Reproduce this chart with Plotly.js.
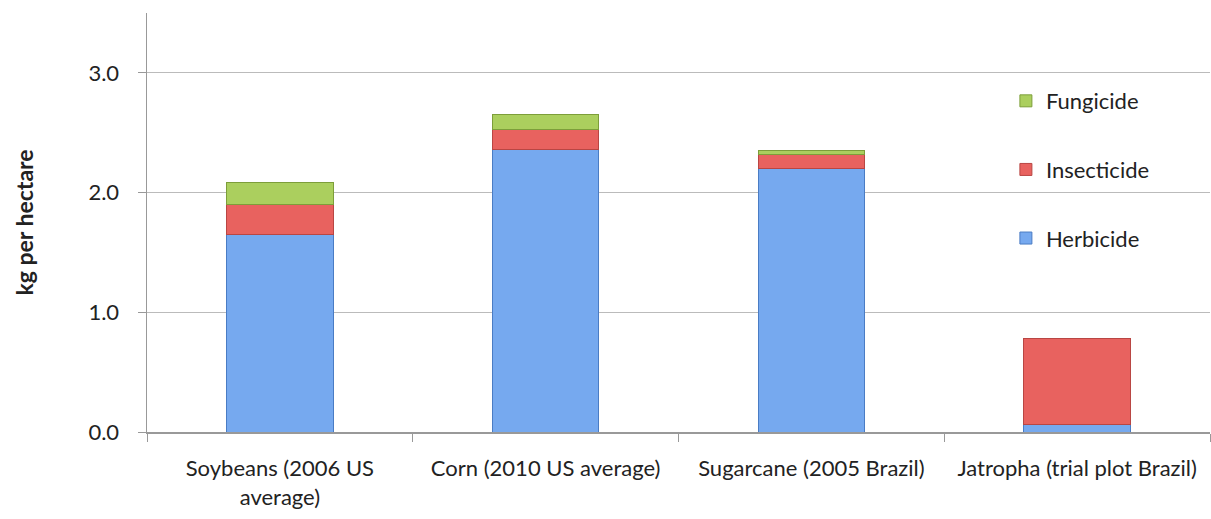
<!DOCTYPE html>
<html>
<head>
<meta charset="utf-8">
<script src="https://cdn.plot.ly/plotly-3.0.1.min.js"></script>
<style>html,body{margin:0;padding:0;background:#fff;}#chart{width:1211px;height:519px;}</style>
</head>
<body>
<div id="chart"></div>
<script>
const categories = ["Soybeans (2006 US<br>average)", "Corn (2010 US average)", "Sugarcane (2005 Brazil)", "Jatropha (trial plot Brazil)"];
const herbicide = [1.65, 2.36, 2.20, 0.06];
const insecticide = [0.25, 0.17, 0.12, 0.72];
const fungicide = [0.18, 0.12, 0.03, 0.0];
const yTicks = [0, 1, 2, 3];
const yTickLabels = ["0.0", "1.0", "2.0", "3.0"];

const mk = (name, y, fill, line, rank) => ({
  type: "bar", name: name, x: categories, y: y, width: 0.4,
  legendgroup: name, legendrank: rank,
  marker: {color: fill, line: {color: line, width: y.map(v => v > 0 ? 1 : 0)}},
  hoverinfo: "y+name"
});

const data = [
  mk("Herbicide", herbicide, "#76a9ef", "#4a7cc4", 3),
  mk("Insecticide", insecticide, "#e8625f", "#b94643", 2),
  mk("Fungicide", fungicide, "#abcf5e", "#7d9e3a", 1)
];

const font = "Lato, 'Open Sans', sans-serif";
const layout = {
  width: 1211, height: 519,
  margin: {l: 147, r: 1, t: 13, b: 87},
  barmode: "stack",
  paper_bgcolor: "#fff", plot_bgcolor: "#fff",
  font: {family: font, size: 22, color: "#222"},
  xaxis: {
    type: "category", showline: true, linecolor: "#999", linewidth: 1.5,
    ticks: "outside", tickson: "boundaries", ticklen: 8, tickcolor: "#999",
    ticklabelstandoff: 16,
    tickfont: {size: 22, family: font, color: "#222"}, showgrid: false
  },
  yaxis: {
    range: [0, 3.5], tickvals: yTicks, ticktext: yTickLabels,
    showline: true, linecolor: "#999", linewidth: 1.5,
    ticks: "outside", ticklen: 8, tickcolor: "#999",
    ticklabelstandoff: 14,
    showgrid: true, gridcolor: "#bbb", gridwidth: 1, zeroline: false,
    tickfont: {size: 22, family: font, color: "#222"},
    title: {text: "<b>kg per hectare</b>", font: {size: 23, family: font, color: "#222"}, standoff: 48}
  },
  legend: {
    x: 0.808, y: 0.84, xanchor: "left", yanchor: "top",
    traceorder: "grouped", tracegroupgap: 37,
    font: {size: 22, family: font, color: "#222"},
    itemwidth: 30, bgcolor: "rgba(0,0,0,0)"
  },
  showlegend: true
};

Plotly.newPlot("chart", data, layout, {displayModeBar: false, staticPlot: true});
</script>
</body>
</html>
